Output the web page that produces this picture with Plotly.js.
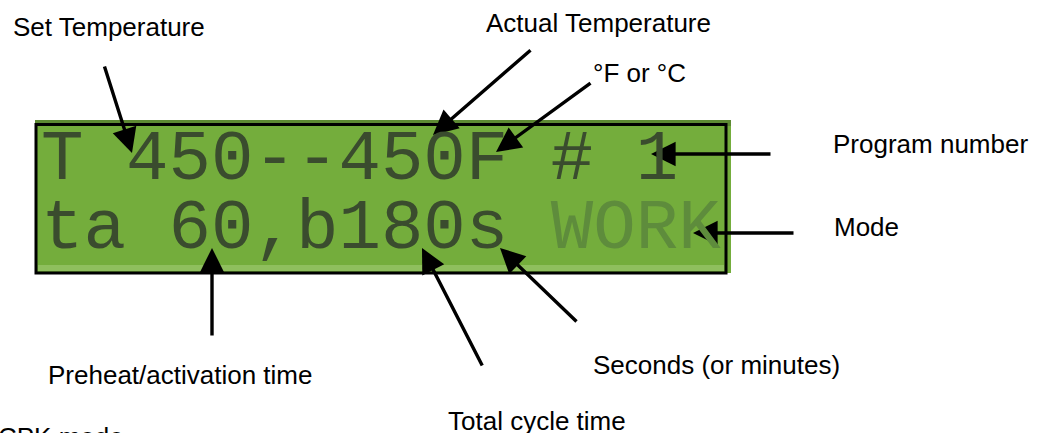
<!DOCTYPE html>
<html>
<head>
<meta charset="utf-8">
<script src="https://cdn.plot.ly/plotly-3.0.1.min.js"></script>
<style>html,body{margin:0;padding:0;background:#fff;}#chart{width:1037px;height:433px;}</style>
</head>
<body>
<div id="chart"></div>
<script>
// ---- data (texts shown on the diagram) ----
var lcdRow1 = "T 450--450F # 1";
var lcdRow2Main = "ta 60,b180s ";
var lcdRow2Mode = "WORK";
var labelTexts = ["Set Temperature", "Actual Temperature", "\u00B0F or \u00B0C", "Program number",
                  "Mode", "Preheat/activation time", "Seconds (or minutes)", "Total cycle time", "CPK mode"];

// ---- layout positions (pixel coordinates, y downward) ----
var labelPos = [[12,27],[485,23],[592,73],[832,144],[833,227],[47,375],[592,365],[447,421],[0,432]];
var labelShift = [[0,0],[0,0],[0,0],[0,0],[0,0],[0,0],[0,0],[0,0],[-3,-5]];
// arrows: [tailX, tailY, tipX, tipY]
var arrowPos = [[104,65,132,153],[532,49,433,135],[592,82,496,152],[772,154,651,154],
                [795,233,693,233],[212,337,212,248],[483,367,422,248],[578,323,500,248]];

var ann = [];
labelTexts.forEach(function(t,i){
  ann.push({x:labelPos[i][0], y:labelPos[i][1], xshift:labelShift[i][0], yshift:labelShift[i][1],
    xref:'x', yref:'y', text:t, showarrow:false,
    xanchor:'left', yanchor:'middle', borderpad:0,
    font:{family:'Liberation Sans, Arial, sans-serif', size:26, color:'#000'}});
});
arrowPos.forEach(function(a){
  ann.push({x:a[2], y:a[3], xref:'x', yref:'y', axref:'x', ayref:'y', ax:a[0], ay:a[1],
    text:'', showarrow:true, arrowhead:2, arrowsize:1.45, arrowwidth:3.4, arrowcolor:'#000', standoff:0, startstandoff:0});
});
var lcdFont = {family:'Liberation Mono, DejaVu Sans Mono, monospace', size:70.8, color:'#3a4c2e'};
ann.push({x:40, y:160, xref:'x', yref:'y', text:lcdRow1, showarrow:false, xanchor:'left', yanchor:'middle', borderpad:0, font:lcdFont});
ann.push({x:40, y:229, xref:'x', yref:'y', text:lcdRow2Main + '<span style="color:#5e8c3c">' + lcdRow2Mode + '</span>',
  showarrow:false, xanchor:'left', yanchor:'middle', borderpad:0, font:lcdFont});

var shapes = [
  {type:'rect', xref:'x', yref:'y', x0:35, x1:731, y0:120, y1:273, fillcolor:'#74ad3c', line:{width:0}, layer:'below'},
  {type:'rect', xref:'x', yref:'y', x0:35, x1:731, y0:120, y1:126, fillcolor:'#5d8a33', line:{width:0}, layer:'below'},
  {type:'rect', xref:'x', yref:'y', x0:38, x1:724, y0:265, y1:271, fillcolor:'#8fbf5e', line:{width:0}, layer:'below'},
  {type:'rect', xref:'x', yref:'y', x0:36, x1:726, y0:124.5, y1:273, fillcolor:'rgba(0,0,0,0)', line:{width:3, color:'#000'}}
];

var layout = {
  width:1037, height:433, margin:{l:0,r:0,t:0,b:0}, paper_bgcolor:'#fff', plot_bgcolor:'#fff',
  showlegend:false,
  xaxis:{range:[0,1037], visible:false, fixedrange:true},
  yaxis:{range:[433,0], visible:false, fixedrange:true},
  shapes:shapes, annotations:ann
};
var trace = {x:[0,1037], y:[0,433], mode:'markers', marker:{opacity:0}, hoverinfo:'skip', type:'scatter'};
Plotly.newPlot('chart', [trace], layout, {staticPlot:true});
</script>
</body>
</html>
